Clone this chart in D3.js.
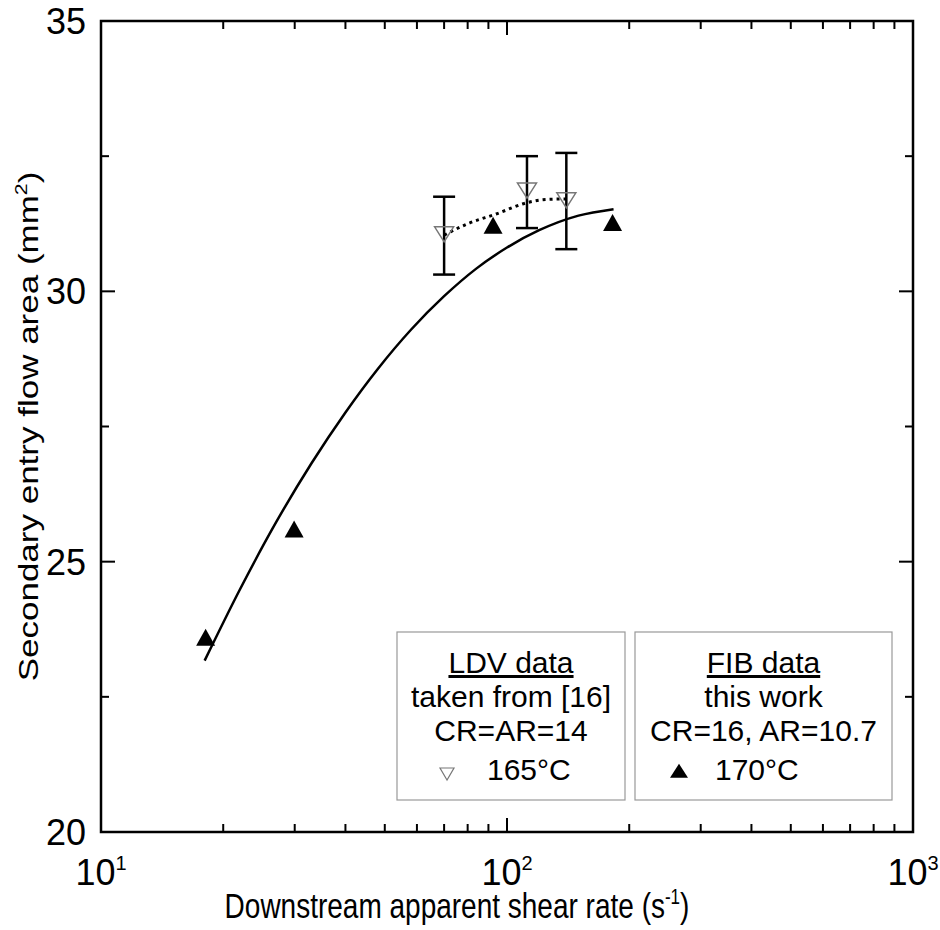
<!DOCTYPE html>
<html>
<head>
<meta charset="utf-8">
<script src="https://cdn.jsdelivr.net/npm/d3@7"></script>
<style>
  body { margin: 0; background: #fff; }
  svg { display: block; font-family: "Liberation Sans", Arial, sans-serif; }
</style>
</head>
<body>
<div id="chart"></div>
<script>
// FIB data, this work, 170°C
const fibShear = [18.1, 29.9, 92.4, 182];
const fibArea = [23.55, 25.55, 31.17, 31.22];

// LDV data taken from [16], 165°C, with error bars
const ldvShear = [70, 112, 140];
const ldvArea = [31.10, 31.91, 31.73];
const ldvLow = [30.31, 31.17, 30.78];
const ldvHigh = [31.75, 32.50, 32.56];

// fitted trend lines
const fibFitShear = [18, 22, 27, 33, 40, 48, 58, 70, 84, 100, 120, 150, 183];
const fibFitArea = [23.17, 24.49, 25.73, 26.82, 27.76, 28.56, 29.29, 29.91, 30.42, 30.81, 31.13, 31.40, 31.52];
const ldvFitShear = [70, 80, 94, 112, 125, 140];
const ldvFitArea = [31.04, 31.25, 31.43, 31.64, 31.70, 31.71];

const yMajor = [20, 25, 30, 35];
const yMinor = [22.5, 27.5, 32.5];
const xMajor = [10, 100, 1000];
const xMinor = [20, 30, 40, 50, 60, 70, 80, 90, 200, 300, 400, 500, 600, 700, 800, 900];

const width = 940, height = 930;
const margin = { top: 21, right: 27, bottom: 98, left: 101 };
const iw = width - margin.left - margin.right;
const ih = height - margin.top - margin.bottom;

const svg = d3.select('#chart').append('svg')
  .attr('width', width)
  .attr('height', height);

const g = svg.append('g').attr('transform', `translate(${margin.left},${margin.top})`);

const x = d3.scaleLog().domain([10, 1000]).range([0, iw]);
const y = d3.scaleLinear().domain([20, 35]).range([ih, 0]);

// ticks, inward on all four sides
const tickG = g.append('g').attr('stroke', '#000').attr('stroke-width', 2);
function xTicks(vals, len) {
  vals.forEach(v => {
    tickG.append('line').attr('x1', x(v)).attr('x2', x(v)).attr('y1', ih).attr('y2', ih - len);
    tickG.append('line').attr('x1', x(v)).attr('x2', x(v)).attr('y1', 0).attr('y2', len);
  });
}
function yTicks(vals, len) {
  vals.forEach(v => {
    tickG.append('line').attr('x1', 0).attr('x2', len).attr('y1', y(v)).attr('y2', y(v));
    tickG.append('line').attr('x1', iw).attr('x2', iw - len).attr('y1', y(v)).attr('y2', y(v));
  });
}
xTicks(xMajor, 14);
xTicks(xMinor, 8);
yTicks(yMajor, 14);
yTicks(yMinor, 8);

g.append('rect')
  .attr('width', iw).attr('height', ih)
  .attr('fill', 'none').attr('stroke', '#000').attr('stroke-width', 2.5);

// tick labels
g.selectAll('.ylab').data(yMajor).enter().append('text')
  .attr('x', -15).attr('y', d => y(d)).attr('dy', '0.36em')
  .attr('text-anchor', 'end').attr('font-size', 36)
  .text(d => d);

const xl = g.selectAll('.xlab').data(xMajor).enter().append('text')
  .attr('x', d => x(d)).attr('y', ih + 53)
  .attr('text-anchor', 'middle').attr('font-size', 36);
xl.append('tspan').text('10');
xl.append('tspan').attr('font-size', 20).attr('dy', -15).text(d => Math.round(Math.log10(d)));

// axis titles (the original is a bit taller than wide)
const xt = svg.append('text')
  .attr('transform', `translate(457,${height - 12}) scale(1,1.25)`)
  .attr('text-anchor', 'middle').attr('font-size', 28);
xt.append('tspan').text('Downstream apparent shear rate (s');
xt.append('tspan').attr('font-size', 17).attr('dy', -11).text('-1');
xt.append('tspan').attr('dy', 11).text(')');

const yt = svg.append('text')
  .attr('transform', `translate(38,${margin.top + ih / 2}) rotate(-90) scale(1.25,1)`)
  .attr('text-anchor', 'middle').attr('font-size', 28);
yt.append('tspan').text('Secondary entry flow area (mm');
yt.append('tspan').attr('font-size', 17).attr('dy', -11).text('2');
yt.append('tspan').attr('dy', 11).text(')');

// fit lines
const line = d3.line().x(d => x(d[0])).y(d => y(d[1])).curve(d3.curveMonotoneX);
g.append('path')
  .datum(d3.zip(fibFitShear, fibFitArea))
  .attr('d', line)
  .attr('fill', 'none').attr('stroke', '#000').attr('stroke-width', 2.5);
g.append('path')
  .datum(d3.zip(ldvFitShear, ldvFitArea))
  .attr('d', line)
  .attr('fill', 'none').attr('stroke', '#000').attr('stroke-width', 3)
  .attr('stroke-dasharray', '3,4');

// error bars
const eb = g.append('g').attr('stroke', '#000').attr('stroke-width', 2.5);
ldvShear.forEach((s, i) => {
  const cx = x(s);
  eb.append('line').attr('x1', cx).attr('x2', cx).attr('y1', y(ldvLow[i])).attr('y2', y(ldvHigh[i]));
  eb.append('line').attr('x1', cx - 11).attr('x2', cx + 11).attr('y1', y(ldvLow[i])).attr('y2', y(ldvLow[i]));
  eb.append('line').attr('x1', cx - 11).attr('x2', cx + 11).attr('y1', y(ldvHigh[i])).attr('y2', y(ldvHigh[i]));
});

function tri(w, h, down) {
  const s = down ? -1 : 1;
  return `M0,${-s * h * 2 / 3}L${-w / 2},${s * h / 3}L${w / 2},${s * h / 3}Z`;
}

// markers
g.selectAll('.ldv').data(d3.zip(ldvShear, ldvArea)).enter().append('path')
  .attr('transform', d => `translate(${x(d[0])},${y(d[1])})`)
  .attr('d', tri(19, 15, true))
  .attr('fill', 'none').attr('stroke', '#777').attr('stroke-width', 1.5);

g.selectAll('.fib').data(d3.zip(fibShear, fibArea)).enter().append('path')
  .attr('transform', d => `translate(${x(d[0])},${y(d[1])})`)
  .attr('d', tri(19, 17, false))
  .attr('fill', '#000');

// legend boxes
const legends = [
  { x0: 397, x1: 625, lines: ['LDV data', 'taken from [16]', 'CR=AR=14'], label: '165°C', down: true },
  { x0: 635, x1: 892, lines: ['FIB data', 'this work', 'CR=16, AR=10.7'], label: '170°C', down: false }
];
legends.forEach((L, k) => {
  const lg = svg.append('g');
  lg.append('rect')
    .attr('x', L.x0).attr('y', 632).attr('width', L.x1 - L.x0).attr('height', 168)
    .attr('fill', '#fff').attr('stroke', '#999').attr('stroke-width', 1.2);
  const cx = (L.x0 + L.x1) / 2;
  L.lines.forEach((t, i) => {
    lg.append('text')
      .attr('x', cx).attr('y', 673 + i * 34)
      .attr('text-anchor', 'middle').attr('font-size', 30)
      .attr('text-decoration', i === 0 ? 'underline' : null)
      .text(t);
  });
  lg.append('text')
    .attr('x', k === 0 ? 487 : 715).attr('y', 780)
    .attr('font-size', 30).text(L.label);
  if (L.down) {
    lg.append('path').attr('transform', 'translate(447,772)')
      .attr('d', tri(14, 12, true))
      .attr('fill', 'none').attr('stroke', '#777').attr('stroke-width', 1.2);
  } else {
    lg.append('path').attr('transform', 'translate(679,773)')
      .attr('d', tri(18, 14, false))
      .attr('fill', '#000');
  }
});
</script>
</body>
</html>
